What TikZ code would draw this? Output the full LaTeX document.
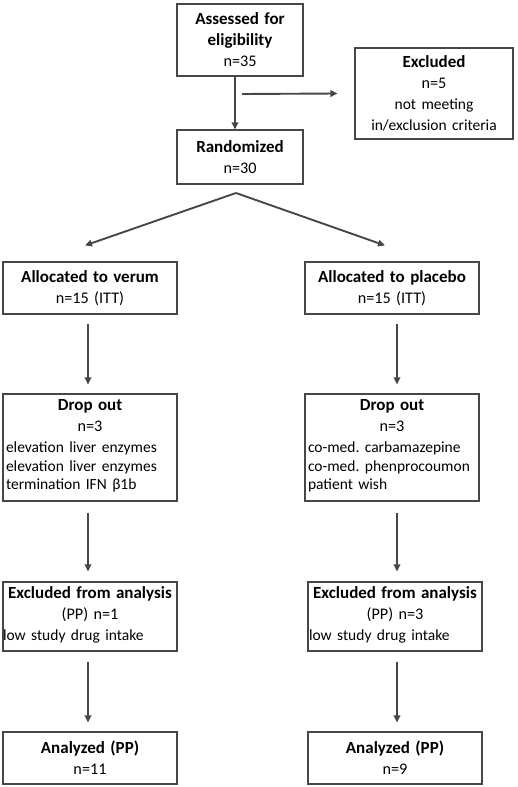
\documentclass[tikz,border=0pt]{standalone}
\usepackage{fontspec}
\setmainfont{Carlito}
\usetikzlibrary{arrows.meta}
\definecolor{linegray}{HTML}{474747}
\newcommand{\flowtitle}[1]{{\fontsize{17}{20}\selectfont\textbf{#1}}}
\newcommand{\reasonfont}{\fontsize{15.5}{18.5}\selectfont}

\begin{document}
\begin{tikzpicture}[x=1pt, y=-1pt]
	\tikzset{flow box/.style={draw=linegray, line width=1.1pt, inner xsep=3pt, inner ysep=0pt,
			align=center, font=\fontsize{16.2}{21}\selectfont\frenchspacing},
		flow lines/.style={draw=linegray, line width=1.9pt, -{Triangle[length=7pt, width=6.5pt]}}}
	\useasboundingbox (0, 0) rectangle (517, 787);

	% enrolment
	\node[flow box, text width=120pt, minimum height=72pt] (assessed) at (240, 40)
	{\flowtitle{Assessed for}\\\flowtitle{eligibility}\\n=35};
	\node[flow box, text width=152pt, minimum height=91pt] (excluded) at (434, 93.5)
	{\flowtitle{Excluded}\\n=5\\{\reasonfont not meeting}\\{\reasonfont in/exclusion criteria}};
	\node[flow box, text width=120pt, minimum height=54pt] (randomized) at (240, 157)
	{\flowtitle{Randomized}\\n=30};

	% verum arm
	\node[flow box, text width=168pt, minimum height=52pt] (verum) at (90, 288)
	{\flowtitle{Allocated to verum}\\n=15 (ITT)};
	\node[flow box, text width=168pt, minimum height=107pt] (drop verum) at (90, 447.5)
	{\flowtitle{Drop out}\\n=3\\{\reasonfont\begin{tabular}[t]{@{}p{168pt}@{}}
		elevation liver enzymes\\elevation liver enzymes\\termination IFN β1b\end{tabular}}};
	\node[flow box, text width=168pt, minimum height=69pt] (excl verum) at (90, 616.5)
	{\flowtitle{Excluded from analysis}\\(PP) n=1\\{\reasonfont\begin{tabular}[t]{@{}p{168pt}@{}}
		\hspace*{-3pt}low study drug intake\end{tabular}}};
	\node[flow box, text width=168pt, minimum height=52pt] (anal verum) at (90, 758)
	{\flowtitle{Analyzed (PP)}\\n=11};

	% placebo arm
	\node[flow box, text width=168pt, minimum height=52pt] (placebo) at (392, 288)
	{\flowtitle{Allocated to placebo}\\n=15 (ITT)};
	\node[flow box, text width=168pt, minimum height=107pt] (drop placebo) at (392, 447.5)
	{\flowtitle{Drop out}\\n=3\\{\reasonfont\begin{tabular}[t]{@{}p{168pt}@{}}
		co-med. carbamazepine\\co-med. phenprocoumon\\patient wish\end{tabular}}};
	\node[flow box, text width=168pt, minimum height=69pt] (excl placebo) at (395, 616.5)
	{\flowtitle{Excluded from analysis}\\(PP) n=3\\{\reasonfont\begin{tabular}[t]{@{}p{168pt}@{}}
		\hspace*{-2pt}low study drug intake\end{tabular}}};
	\node[flow box, text width=168pt, minimum height=52pt] (anal placebo) at (395, 758)
	{\flowtitle{Analyzed (PP)}\\n=9};

	\coordinate (branch) at (242, 94);
	\coordinate (split) at (236, 193);

	\draw[flow lines] ([xshift=-5pt]assessed.south) -- ([xshift=-5pt]randomized.north);
	\draw[flow lines] (branch) -- ([xshift=-17pt]excluded.west);
	\draw[flow lines] (split) -- ([xshift=-5pt, yshift=16pt]verum.north);
	\draw[flow lines] (split) -- ([xshift=-7pt, yshift=16pt]placebo.north);

	\draw[flow lines, shorten <=9pt, shorten >=9pt] ([xshift=-2pt]verum.south) -- ([xshift=-2pt]drop verum.north);
	\draw[flow lines, shorten <=11pt, shorten >=10pt] ([xshift=-2pt]drop verum.south) -- ([xshift=-2pt]excl verum.north);
	\draw[flow lines, shorten <=10pt, shorten >=9pt] ([xshift=-2pt]excl verum.south) -- ([xshift=-2pt]anal verum.north);

	\draw[flow lines, shorten <=9pt, shorten >=9pt] ([xshift=5pt]placebo.south) -- ([xshift=5pt]drop placebo.north);
	\draw[flow lines, shorten <=11pt, shorten >=10pt] ([xshift=5pt]drop placebo.south) -- ([xshift=2pt]excl placebo.north);
	\draw[flow lines, shorten <=10pt, shorten >=9pt] ([xshift=2pt]excl placebo.south) -- ([xshift=2pt]anal placebo.north);
\end{tikzpicture}
\end{document}
